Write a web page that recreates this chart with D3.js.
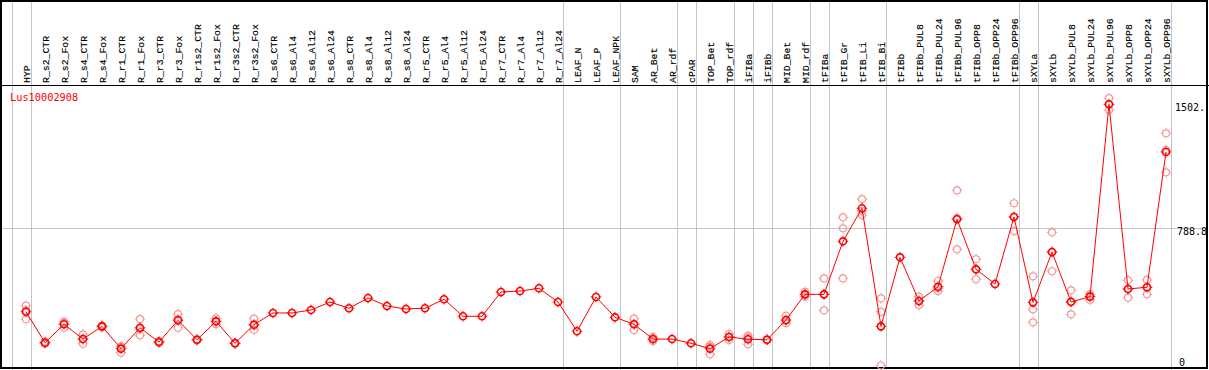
<!DOCTYPE html>
<html><head><meta charset="utf-8">
<script src="https://cdn.jsdelivr.net/npm/d3@7"></script>
<style>html,body{margin:0;padding:0;background:#fff;}svg{display:block;}</style>
</head><body>
<svg id="c" width="1209" height="370"></svg>
<script>
const categories = ["HYP","R_s2_CTR","R_s2_Fox","R_s4_CTR","R_s4_Fox","R_r1_CTR","R_r1_Fox","R_r3_CTR","R_r3_Fox","R_r1s2_CTR","R_r1s2_Fox","R_r3s2_CTR","R_r3s2_Fox","R_s6_CTR","R_s6_Al4","R_s6_Al12","R_s6_Al24","R_s8_CTR","R_s8_Al4","R_s8_Al12","R_s8_Al24","R_r5_CTR","R_r5_Al4","R_r5_Al12","R_r5_Al24","R_r7_CTR","R_r7_Al4","R_r7_Al12","R_r7_Al24","LEAF_N","LEAF_P","LEAF_NPK","SAM","AR_Bet","AR_rdf","cPAR","TOP_Bet","TOP_rdf","iFIBa","iFIBb","MID_Bet","MID_rdf","tFIBa","tFIB_Gr","tFIB_Li","tFIB_Bi","tFIBb","tFIBb_PUL8","tFIBb_PUL24","tFIBb_PUL96","tFIBb_OPP8","tFIBb_OPP24","tFIBb_OPP96","sXYLa","sXYLb","sXYLb_PUL8","sXYLb_PUL24","sXYLb_PUL96","sXYLb_OPP8","sXYLb_OPP24","sXYLb_OPP96"];

const meanValues = [309,131,237,152,225,97,217,135,260,148,254,128,235,302,302,319,365,329,388,342,325,329,381,283,283,423,428,444,365,197,394,277,237,152,152,128,97,164,151,148,262,409,409,714,904,225,622,371,453,841,553,469,854,363,653,365,396,1502,440,450,1228];

const rep1 = [344,125,252,179,220,110,267,130,296,145,271,125,269,null,null,null,null,null,null,null,null,null,null,null,null,null,null,null,null,null,null,null,269,164,null,null,118,181,170,146,286,423,501,852,957,386,null,396,486,1007,611,null,933,513,766,432,411,1537,490,492,1335];
const rep2 = [266,131,217,125,225,74,174,135,217,148,237,128,206,null,null,null,null,null,null,null,null,null,null,null,null,null,null,null,null,null,null,null,204,141,null,null,64,147,122,148,243,396,317,789,865,309,null,346,428,668,496,null,773,323,542,294,377,1469,390,409,1111];
const rep3 = [317,137,242,152,230,107,210,140,267,151,254,131,230,null,null,null,null,null,null,null,null,null,null,null,null,null,null,null,null,null,null,null,238,151,null,null,109,164,161,150,257,408,409,501,890,0,null,371,445,848,553,null,856,248,651,369,400,1500,440,449,1238];

// group separators: drawn after these category indices (-1 = before first)
const separatorsAfter = [-1,0,28,31,34,35,37,38,39,41,42,45,52,53,60];
const gridValues = [788.8];
const yLabelValues = [1502, 788.8, 0];
const yLabelTexts = ["1502.", "788.8", "0"];
const geneName = "Lus10002908";

const W = 1209, H = 370;
const svg = d3.select("#c");
const font = "'DejaVu Sans Mono', monospace";
const labelFont = "'Liberation Mono', monospace";

const x = d3.scalePoint().domain(categories).range([26, 1166]);
const step = x.step();
const y = d3.scaleLinear().domain([0, 1502]).range([365.5, 104.3]);
const sepX = i => Math.round(x(categories[0]) + step * i + 4.5) + 0.5;

// gray separators (full height)
svg.append("g").selectAll("line").data(separatorsAfter).join("line")
  .attr("x1", sepX).attr("x2", sepX).attr("y1", 0).attr("y2", H)
  .attr("stroke", "#c4c4c4").attr("stroke-width", 1);

// horizontal gridline
svg.append("g").selectAll("line").data(gridValues).join("line")
  .attr("x1", 2).attr("x2", W - 2)
  .attr("y1", d => Math.round(y(d)) + 0.5).attr("y2", d => Math.round(y(d)) + 0.5)
  .attr("stroke", "#c4c4c4").attr("stroke-width", 1);

// header line
svg.append("line").attr("x1", 0).attr("x2", W).attr("y1", 85.5).attr("y2", 85.5)
  .attr("stroke", "#000").attr("stroke-width", 1.2);

// frame
svg.append("rect").attr("x", 1).attr("y", 1).attr("width", W - 3).attr("height", H - 3)
  .attr("fill", "none").attr("stroke", "#000").attr("stroke-width", 2);

// category labels
svg.append("g").selectAll("text").data(categories).join("text")
  .attr("transform", d => `translate(${x(d) + 3.5},83) rotate(-90)`)
  .attr("font-family", labelFont).attr("font-size", 9.8).attr("fill", "#000")
  .attr("stroke", "#000").attr("stroke-width", 0.15)
  .text(d => d);

// gene name
svg.append("text").attr("x", 10).attr("y", 101).attr("font-family", font)
  .attr("font-size", 10.3).attr("fill", "#ff0000").text(geneName);

// y labels
svg.append("g").selectAll("text").data(yLabelValues).join("text")
  .attr("x", (d, i) => [1175, 1177, 1179][i])
  .attr("y", d => Math.min(y(d) + 7, 366))
  .attr("font-family", font).attr("font-size", 10).attr("fill", "#000")
  .text((d, i) => yLabelTexts[i]);

function marker(g, color, sw) {
  g.append("circle").attr("r", 3.5).attr("fill", "none").attr("stroke", color).attr("stroke-width", sw);
  g.append("path").attr("d", "M0,-5.3V-4M0,4V5.3M-5.3,0H-4M4,0H5.3")
    .attr("stroke", color).attr("stroke-width", 1).attr("fill", "none");
}

// replicates
const reps = [];
[rep1, rep2, rep3].forEach(arr => arr.forEach((v, i) => { if (v !== null) reps.push({c: categories[i], v}); }));
const rg = svg.append("g").selectAll("g").data(reps).join("g")
  .attr("transform", d => `translate(${x(d.c)},${y(d.v)})`);
rg.each(function() { marker(d3.select(this), "#f09a9a", 1.2); });

// mean line
const means = categories.map((c, i) => ({c, v: meanValues[i]}));
svg.append("path").datum(means)
  .attr("d", d3.line().x(d => x(d.c)).y(d => y(d.v)))
  .attr("fill", "none").attr("stroke", "#ff0000").attr("stroke-width", 1);

const mg = svg.append("g").selectAll("g").data(means).join("g")
  .attr("transform", d => `translate(${x(d.c)},${y(d.v)})`);
mg.each(function() { marker(d3.select(this), "#ff0000", 1.6); });
</script>
</body></html>
